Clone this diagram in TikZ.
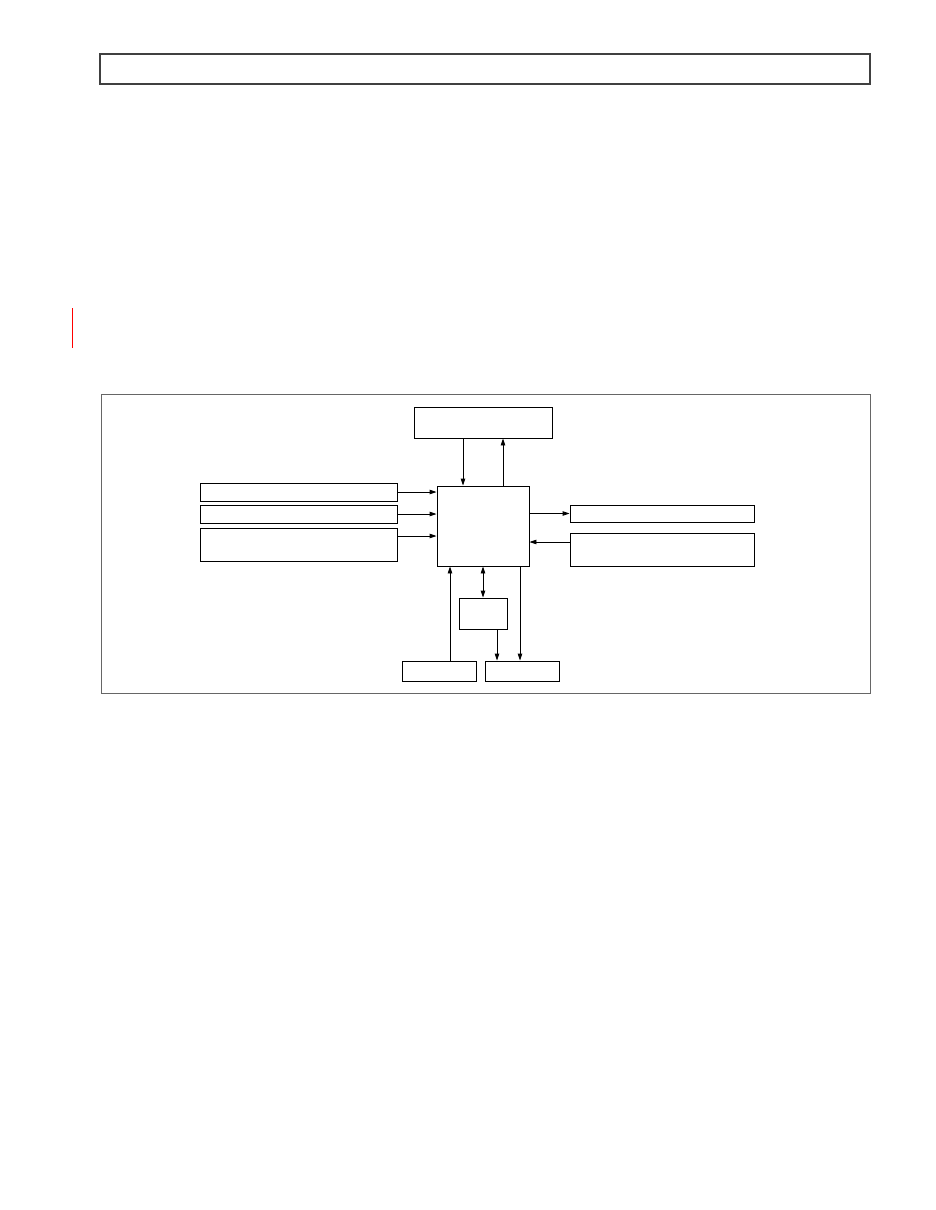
\documentclass[tikz,border=0pt]{standalone}
\usetikzlibrary{arrows.meta}
\begin{document}
\begin{tikzpicture}[x=1pt,y=-1pt,
	blk/.style = {draw, line width=0.9pt, inner sep=0pt, minimum width=#1},
	blk/.default = 20pt,
	>={Triangle[length=7pt,width=4.5pt]}, line width=0.9pt]
	\useasboundingbox (0,0) rectangle (935,1210);
	\node[draw=black!75, line width=1.6pt, minimum width=770pt, minimum height=30pt] (head) at (485,69) {};
	\draw[red, line width=0.8pt] (72,308) -- (72,348);
	\node[draw=black!60, line width=0.6pt, inner sep=0pt, minimum width=769pt, minimum height=299pt] (frame) at (485.5,543.5) {};
	\node[blk=138pt, minimum height=31pt] (tb) at (483,422.5) {};
	\node[blk=92pt, minimum height=80pt] (cpu) at (483,526) {};
	\node[blk=197pt, minimum height=18pt] (l1) at (298.5,492) {};
	\node[blk=197pt, minimum height=18pt] (l2) at (298.5,514) {};
	\node[blk=197pt, minimum height=33pt] (l3) at (298.5,544.5) {};
	\node[blk=184pt, minimum height=17pt] (r1) at (662,513.5) {};
	\node[blk=184pt, minimum height=33pt] (r2) at (662,549.5) {};
	\node[blk=48pt, minimum height=31pt] (sm) at (483,613.5) {};
	\node[blk=74pt, minimum height=20pt] (b1) at (439,671) {};
	\node[blk=74pt, minimum height=20pt] (b2) at (522,671) {};
	\draw[->] ([xshift=-20pt]tb.south) -- ([xshift=-20pt]tb.south |- cpu.north);
	\draw[->] ([xshift=20pt]cpu.north) -- ([xshift=20pt]cpu.north |- tb.south);
	\draw[->] (l1.east) -- (l1.east -| cpu.west);
	\draw[->] (l2.east) -- (l2.east -| cpu.west);
	\draw[->] ([yshift=8.5pt]l3.east) -- ([yshift=8.5pt]l3.east -| cpu.west);
	\draw[->] (r1.west -| cpu.east) -- (r1.west);
	\draw[->] ([yshift=7.5pt]r2.west) -- ([yshift=7.5pt]r2.west -| cpu.east);
	\draw[->] ([xshift=11pt]b1.north) -- ([xshift=11pt]b1.north |- cpu.south);
	\draw[<->] (cpu.south) -- (sm.north);
	\draw[->] ([xshift=14pt]sm.south) -- ([xshift=14pt]sm.south |- b2.north);
	\draw[->] ([xshift=37pt]cpu.south) -- ([xshift=37pt]cpu.south |- b2.north);
\end{tikzpicture}
\end{document}
